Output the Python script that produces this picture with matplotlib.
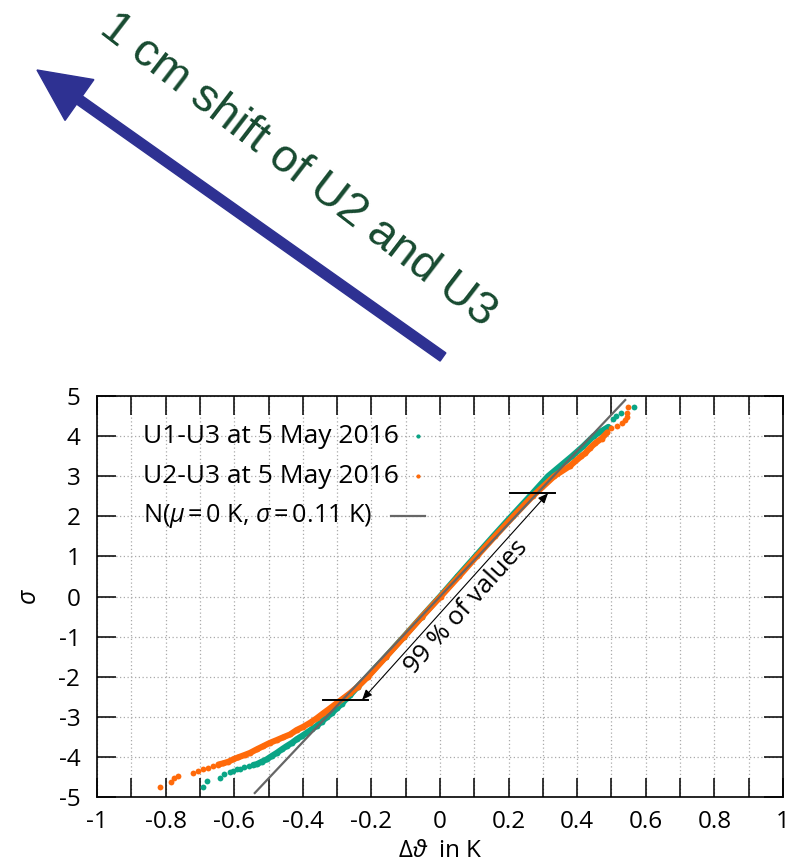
import numpy as np
import matplotlib
matplotlib.use("Agg")
import matplotlib.pyplot as plt
from matplotlib.patches import FancyArrow
from matplotlib.ticker import MultipleLocator

plt.rcParams['font.family'] = ['Open Sans', 'DejaVu Sans']
plt.rcParams['mathtext.fontset'] = 'custom'
plt.rcParams['mathtext.rm'] = 'Open Sans'
plt.rcParams['mathtext.it'] = 'Open Sans:italic'
plt.rcParams['mathtext.fallback'] = 'stixsans'
plt.rcParams['axes.unicode_minus'] = False

# U1-U3 quantiles (dT in K, sigma)
u13_x = [-0.690, -0.678, -0.641, -0.630, -0.612, -0.603, -0.591, -0.583, -0.571, -0.556,
         -0.544, -0.534, -0.520, -0.505, -0.491, -0.476, -0.461, -0.447, -0.432, -0.418,
         -0.403, -0.389, -0.374, -0.360, -0.345, -0.330, -0.316, -0.301, -0.287, -0.272,
         -0.262, -0.240, -0.212, -0.158, -0.105, -0.053, 0.0, 0.051, 0.103, 0.155,
         0.208, 0.262, 0.315, 0.350, 0.385, 0.418, 0.448, 0.470, 0.491, 0.505,
         0.513, 0.527, 0.566]
u13_s = [-4.76, -4.61, -4.53, -4.43, -4.37, -4.34, -4.31, -4.29, -4.26, -4.23,
         -4.20, -4.18, -4.12, -4.06, -3.98, -3.90, -3.81, -3.73, -3.65, -3.56,
         -3.48, -3.40, -3.31, -3.23, -3.12, -3.01, -2.91, -2.79, -2.68, -2.54,
         -2.46, -2.25, -2.0, -1.5, -1.0, -0.5, 0.0, 0.5, 1.0, 1.5,
         2.0, 2.5, 3.0, 3.25, 3.5, 3.75, 4.0, 4.12, 4.23, 4.42,
         4.50, 4.58, 4.72]

# U2-U3 quantiles
u23_x = [-0.816, -0.785, -0.776, -0.765, -0.719, -0.705, -0.690, -0.675, -0.661, -0.646,
         -0.632, -0.617, -0.603, -0.588, -0.569, -0.554, -0.534, -0.515, -0.496, -0.476,
         -0.457, -0.437, -0.418, -0.399, -0.379, -0.360, -0.340, -0.321, -0.301, -0.282,
         -0.262, -0.240, -0.210, -0.157, -0.104, -0.052, 0.002, 0.055, 0.107, 0.160,
         0.214, 0.270, 0.333, 0.378, 0.412, 0.423, 0.437, 0.452, 0.471, 0.488,
         0.500, 0.515, 0.530, 0.539, 0.546, 0.545, 0.549]
u23_s = [-4.76, -4.62, -4.53, -4.47, -4.41, -4.34, -4.29, -4.27, -4.23, -4.19,
         -4.16, -4.12, -4.06, -4.01, -3.95, -3.90, -3.81, -3.73, -3.65, -3.58,
         -3.51, -3.44, -3.33, -3.25, -3.15, -3.04, -2.91, -2.79, -2.66, -2.54,
         -2.41, -2.25, -2.0, -1.5, -1.0, -0.5, 0.0, 0.5, 1.0, 1.5,
         2.0, 2.5, 3.0, 3.25, 3.5, 3.57, 3.70, 3.82, 3.94, 4.09,
         4.19, 4.26, 4.32, 4.40, 4.48, 4.57, 4.72]

# normal reference line N(0, 0.11 K), end points
norm_x = [-0.54, 0.54]
norm_s = [-4.9, 4.9]

# 99 % quantile marks
q99 = 2.576
q_lo_x = [-0.34, -0.21]
q_hi_x = [0.204, 0.335]

labels = ['U1-U3 at 5 May 2016', 'U2-U3 at 5 May 2016',
          r'N($\mu\,$=$\,$0 K, $\sigma\,$=$\,$0.11 K)']

teal = '#0aa586'
orange = '#ff6a0a'
grey = '#666666'

fig = plt.figure(figsize=(7.94, 8.65), dpi=100)
ax = fig.add_axes([0.1222, 0.0786, 0.8639, 0.4636])

for xs, ss, c, lo, hi in [(u13_x, u13_s, teal, -4.2, 4.25), (u23_x, u23_s, orange, -4.2, 4.1)]:
    xs = np.array(xs)
    ss = np.array(ss)
    m = (ss >= lo) & (ss <= hi)
    ax.plot(xs[m], ss[m], '-', color=c, lw=4.4, solid_capstyle='round', zorder=3)
    ax.plot(xs, ss, 'o', color=c, ms=4.2, mec='none', zorder=3)

ax.plot(norm_x, norm_s, '-', color=grey, lw=1.6, zorder=4)

ax.plot(q_lo_x, [-q99, -q99], color='black', lw=1.4, zorder=5)
ax.plot(q_hi_x, [q99, q99], color='black', lw=1.4, zorder=5)
ax.annotate('', xy=(0.315, q99), xytext=(-0.227, -q99),
            arrowprops=dict(arrowstyle='<|-|>,head_length=0.6,head_width=0.25',
                            color='black', lw=0.8, shrinkA=0, shrinkB=0), zorder=5)
ax.text(0.077, -0.27, '99 % of values', rotation=48, rotation_mode='anchor',
        ha='center', va='center', fontsize=18.5)

ax.set_xlim(-1, 1)
ax.set_ylim(-5, 5)
ax.xaxis.set_major_locator(MultipleLocator(0.2))
ax.xaxis.set_minor_locator(MultipleLocator(0.1))
ax.yaxis.set_major_locator(MultipleLocator(1))
ax.xaxis.set_major_formatter(matplotlib.ticker.FuncFormatter(lambda v, p: '%g' % round(v, 1)))
ax.grid(True, which='both', axis='x', color='#aaaaaa', lw=0.9, ls=(0, (1, 2)))
ax.grid(True, which='major', axis='y', color='#aaaaaa', lw=0.9, ls=(0, (1, 2)))
ax.set_axisbelow(True)
ax.tick_params(which='both', direction='in', top=True, right=True, length=13.5, width=1.1)
ax.tick_params(axis='x', which='major', pad=9, labelsize=17.5)
ax.tick_params(axis='y', pad=12, labelsize=17.5)
for sp in ax.spines.values():
    sp.set_linewidth(1.2)

ax.set_xlabel(r'$\Delta\vartheta$  in K', fontsize=17.5, labelpad=4)
ax.set_ylabel(r'$\sigma$', fontsize=18, labelpad=12)

# gnuplot-style key: text left aligned, sample to the right
key_y = [0.900, 0.800, 0.701]
key_fs = [19, 19, 18.2]
tr = ax.transAxes
for lab, ky, fs in zip(labels, key_y, key_fs):
    ax.text(0.067, ky, lab, transform=tr, ha='left', va='center', fontsize=fs)
ax.plot([0.468], [key_y[0]], 'o', ms=3, mec='none', color=teal, transform=tr)
ax.plot([0.468], [key_y[1]], 'o', ms=3, mec='none', color=orange, transform=tr)
ax.plot([0.428, 0.478], [key_y[2], key_y[2]], color=grey, lw=1.6, transform=tr)

# shift arrow and label above the chart (figure inches)
arr = FancyArrow(4.43, 5.08, -4.06, 2.87, width=0.10, head_width=0.50, head_length=0.52,
                 length_includes_head=True, color='#2e3192', transform=fig.dpi_scale_trans)
fig.add_artist(arr)
fig.text(298 / 794, 1 - 170 / 865, '1 cm shift of U2 and U3', rotation=-37.5,
         rotation_mode='anchor', ha='center', va='center',
         fontsize=33.5, family='Liberation Sans', color='#174a30')

fig.savefig('out.png', dpi=100)
